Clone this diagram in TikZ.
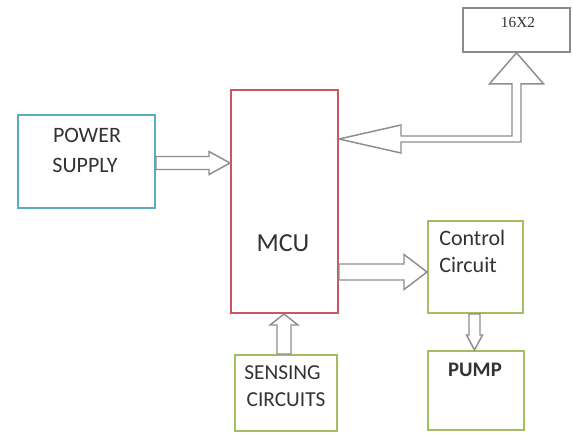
\documentclass[tikz,border=0pt]{standalone}
\usepackage{fontspec}
\setmainfont{Carlito}
\newfontfamily\lcdfont{Liberation Serif}
\usetikzlibrary{calc}
\definecolor{mcured}{HTML}{CC5560}
\definecolor{psblue}{HTML}{5AADBE}
\definecolor{boxgreen}{HTML}{A3BE62}
\definecolor{lcdgray}{HTML}{8A8A8A}
\definecolor{arrgray}{HTML}{8E8E8E}
\definecolor{txt}{HTML}{333333}
\tikzset{
  blk/.style={draw, line width=1.5pt, inner sep=0pt},
  lbl/.style={text=txt, font=\fontsize{16.5}{19}\selectfont, inner sep=0pt, text depth=0pt},
  barrow/.style={draw=arrgray, line width=1.1pt, fill=white, line join=miter}
}
\newcommand\arrR[5]{\draw[barrow] ($(#1)+(0,-#3)$) -- ($(#2)+(-#5,-#3)$) -- ($(#2)+(-#5,-#4)$) -- (#2) -- ($(#2)+(-#5,#4)$) -- ($(#2)+(-#5,#3)$) -- ($(#1)+(0,#3)$) -- cycle;}
\newcommand\arrU[5]{\draw[barrow] ($(#1)+(-#3,0)$) -- ($(#2)+(-#3,#5)$) -- ($(#2)+(-#4,#5)$) -- (#2) -- ($(#2)+(#4,#5)$) -- ($(#2)+(#3,#5)$) -- ($(#1)+(#3,0)$) -- cycle;}
\newcommand\arrD[5]{\draw[barrow] ($(#1)+(-#3,0)$) -- ($(#2)+(-#3,-#5)$) -- ($(#2)+(-#4,-#5)$) -- (#2) -- ($(#2)+(#4,-#5)$) -- ($(#2)+(#3,-#5)$) -- ($(#1)+(#3,0)$) -- cycle;}
\begin{document}
\begin{tikzpicture}[x=0.75pt,y=-0.75pt]
\useasboundingbox[fill=white] (0,0) rectangle (573,433);
% boxes
\node[blk, draw=lcdgray, line width=1.2pt, minimum width={107*0.75pt}, minimum height={44*0.75pt}] (lcd) at (516.5,30) {};
\node[blk, draw=psblue, minimum width={137*0.75pt}, minimum height={93*0.75pt}] (ps) at (86.5,161.5) {};
\node[blk, draw=mcured, minimum width={107*0.75pt}, minimum height={223*0.75pt}] (mcu) at (284.5,201.5) {};
\node[blk, draw=boxgreen, minimum width={95*0.75pt}, minimum height={92*0.75pt}] (ctrl) at (475.5,267) {};
\node[blk, draw=boxgreen, minimum width={96*0.75pt}, minimum height={79*0.75pt}] (pump) at (476,390.5) {};
\node[blk, draw=boxgreen, minimum width={102*0.75pt}, minimum height={76*0.75pt}] (sens) at (286,393) {};
% texts
\node[text=txt, font=\lcdfont\fontsize{11.5}{12}\selectfont, inner sep=0pt, text depth=0pt] (lcdtxt) at (518,22.5) {16X2};
\node[lbl] (pstxt1) at (87,135) {POWER};
\node[lbl] (pstxt2) at (85,165) {SUPPLY};
\node[lbl, font=\fontsize{19.5}{22}\selectfont] (mcutxt) at (283,243) {MCU};
\node[lbl, anchor=west] (ctrltxt1) at (439,238) {Control};
\node[lbl, anchor=west] (ctrltxt2) at (439,265) {Circuit};
\node[lbl, font=\bfseries\fontsize{15.5}{18}\selectfont] (pumptxt) at (475,370) {PUMP};
\node[lbl, font=\fontsize{16}{19}\selectfont] (senstxt1) at (282.5,373) {SENSING};
\node[lbl, font=\fontsize{16}{19}\selectfont] (senstxt2) at (286,400) {CIRCUITS};
% arrows
\path (0,163 -| mcu.west) coordinate (pwT);
\path (pwT -| ps.east) coordinate (pwS);
\arrR{pwS}{pwT}{6.5}{11.5}{21}
\path (0,272 -| ctrl.west) coordinate (mcT);
\path (mcT -| mcu.east) coordinate (mcS);
\arrR{mcS}{mcT}{8}{17.5}{23}
\path (284,0 |- mcu.south) coordinate (snT);
\path (snT |- sens.north) coordinate (snS);
\arrU{snS}{snT}{7}{14}{11}
\path (474.5,0 |- pump.north) coordinate (cpT);
\path (cpT |- ctrl.south) coordinate (cpS);
\arrD{cpS}{cpT}{5.5}{8}{15}
% L-shaped arrow between MCU and 16X2
\path (0,139 -| mcu.east) coordinate (lT);
\path (lT -| lcd.south) coordinate (bend);
\draw[barrow] (lT) -- ($(lT)+(62,-14)$) -- ($(lT)+(62,-3)$) -- ($(bend)+(-4.5,-3)$) -- ($(lcd.south)+(-4.5,31)$) -- ($(lcd.south)+(-27,31)$) -- (lcd.south) -- ($(lcd.south)+(27,31)$) -- ($(lcd.south)+(4.5,31)$) -- ($(bend)+(4.5,3)$) -- ($(lT)+(62,3)$) -- ($(lT)+(62,14)$) -- cycle;
\end{tikzpicture}
\end{document}
